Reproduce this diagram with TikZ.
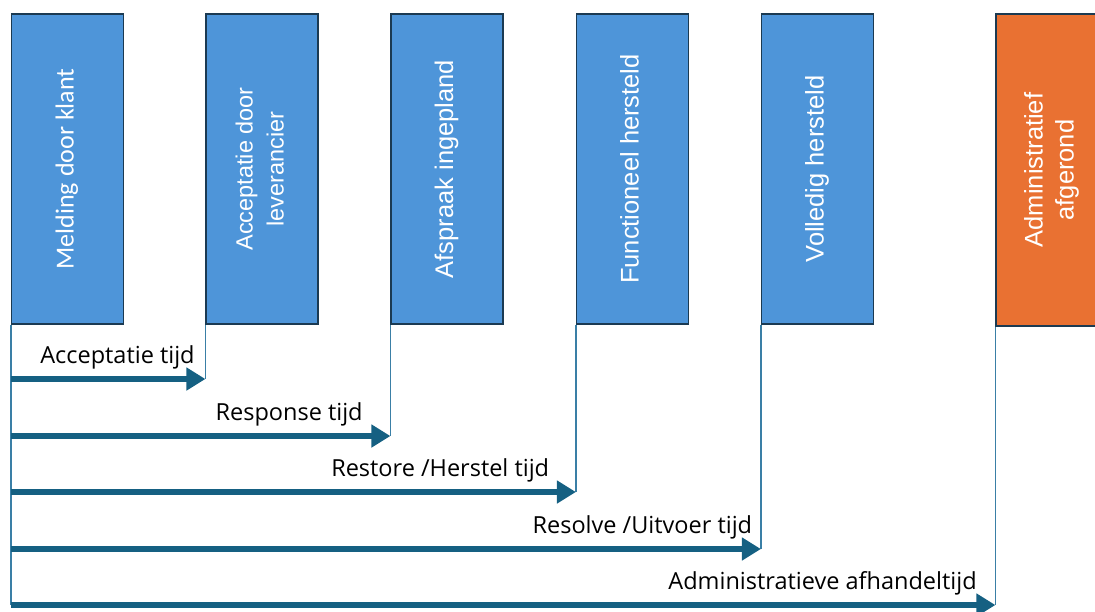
\documentclass[tikz,border=0pt]{standalone}
\usepackage{fontspec}
\usepackage{graphicx}
\setmainfont{Liberation Sans}
\newfontfamily\calibri{Carlito}
\newfontfamily\labelfont{Open Sans}
\usetikzlibrary{arrows.meta,positioning}

\definecolor{stageblue}{HTML}{4E95D9}
\definecolor{stageorange}{HTML}{E97132}
\definecolor{stageedge}{HTML}{1B3A52}
\definecolor{spanblue}{HTML}{156082}
\definecolor{guideblue}{HTML}{3A7FA6}

\tikzset{
  stage/.style={draw=stageedge, line width=1.2pt, fill=stageblue,
    minimum width=112pt, minimum height=310pt, inner sep=0pt,
    text=white, font=\fontsize{25.5}{31}\selectfont},
  guide/.style={draw=guideblue, line width=1.8pt},
  spanarrow/.style={draw=spanblue, line width=5.5pt,
    -{Triangle[length=19pt,width=22pt]}},
  spanlabel/.style={anchor=south east, inner sep=0pt,
    font=\labelfont\fontsize{23.5}{28}\selectfont, text=black}
}

\newcommand{\stagetext}[1]{\rotatebox{90}{\begin{tabular}{@{}c@{}}#1\end{tabular}}}

\begin{document}
\begin{tikzpicture}[x=1pt,y=-1pt]
  \useasboundingbox (0,0) rectangle (1095,611);

  % stages
  \node[stage] (melding) at (67.5,169)
    {\stagetext{\calibri\fontsize{26}{31}\selectfont Melding door klant}};
  \node[stage, font=\fontsize{23.5}{31}\selectfont] (acceptatie) at (262,169)
    {\stagetext{Acceptatie door\\leverancier}};
  \node[stage] (afspraak) at (447,169)
    {\stagetext{Afspraak ingepland}};
  \node[stage] (functioneel) at (632.5,169)
    {\stagetext{Functioneel hersteld}};
  \node[stage] (volledig) at (817.5,169)
    {\stagetext{Volledig hersteld}};
  \node[stage, fill=stageorange, minimum height=312pt] (afgerond) at (1052,170)
    {\stagetext{Administratief\\afgerond}};

  % ends of the spans
  \coordinate (s1) at (melding.south west |- 0,379);
  \coordinate (s2) at (melding.south west |- 0,436);
  \coordinate (s3) at (melding.south west |- 0,492);
  \coordinate (s4) at (melding.south west |- 0,549);
  \coordinate (s5) at (melding.south west |- 0,605);
  \coordinate (t1) at (acceptatie.south west |- 0,379);
  \coordinate (t2) at (afspraak.south west |- 0,436);
  \coordinate (t3) at (functioneel.south west |- 0,492);
  \coordinate (t4) at (volledig.south west |- 0,549);
  \coordinate (t5) at (afgerond.south west |- 0,605);

  \draw[guide] (melding.south west) -- (s5);
  \draw[guide] (acceptatie.south west) -- (t1);
  \draw[guide] (afspraak.south west) -- (t2);
  \draw[guide] (functioneel.south west) -- (t3);
  \draw[guide] (volledig.south west) -- (t4);
  \draw[guide] (afgerond.south west) -- (t5);

  \draw[spanarrow] (s1) -- (t1)
    node[spanlabel, pos=1, xshift=-8pt, yshift=7pt] {Acceptatie tijd};
  \draw[spanarrow] (s2) -- (t2)
    node[spanlabel, pos=1, xshift=-25pt, yshift=7pt] {Response tijd};
  \draw[spanarrow] (s3) -- (t3)
    node[spanlabel, pos=1, xshift=-24pt, yshift=7pt] {Restore /Herstel tijd};
  \draw[spanarrow] (s4) -- (t4)
    node[spanlabel, pos=1, xshift=-6pt, yshift=7pt] {Resolve /Uitvoer tijd};
  \draw[spanarrow] (s5) -- (t5)
    node[spanlabel, pos=1, xshift=-16pt, yshift=7pt] {Administratieve afhandeltijd};
\end{tikzpicture}
\end{document}
